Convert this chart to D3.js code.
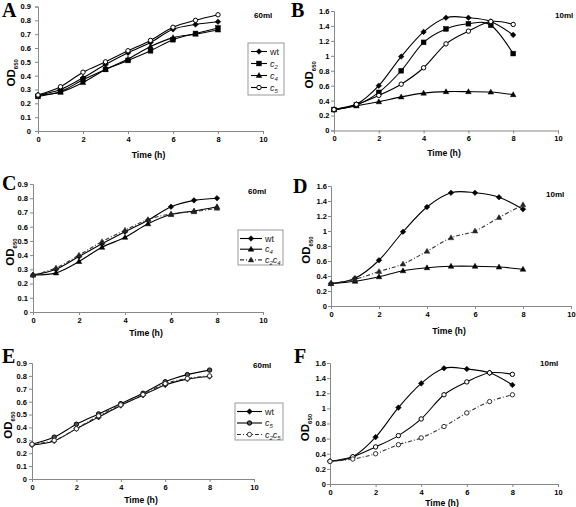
<!DOCTYPE html>
<html><head><meta charset="utf-8">
<script src="https://cdn.jsdelivr.net/npm/d3@7"></script>
<style>
html,body{margin:0;padding:0;background:#fff;}
svg{display:block;}
</style></head>
<body>
<script>
// ---------- data ----------
const time = [0,1,2,3,4,5,6,7,8];
const xTicks = [0,2,4,6,8,10];
const yTicks60 = [0,0.1,0.2,0.3,0.4,0.5,0.6,0.7,0.8,0.9];
const yTicks10 = [0,0.2,0.4,0.6,0.8,1,1.2,1.4,1.6];

const aWt  = [0.26,0.30,0.385,0.48,0.565,0.64,0.735,0.77,0.79];
const aC2  = [0.25,0.285,0.37,0.445,0.51,0.58,0.66,0.705,0.745];
const aC4  = [0.26,0.28,0.35,0.445,0.52,0.61,0.675,0.70,0.73];
const aC5  = [0.26,0.32,0.425,0.50,0.58,0.655,0.75,0.80,0.84];

const bWt  = [0.28,0.35,0.60,0.99,1.32,1.51,1.51,1.46,1.28];
const bC2  = [0.28,0.34,0.51,0.80,1.18,1.36,1.43,1.41,1.03];
const bC4  = [0.28,0.33,0.385,0.45,0.50,0.52,0.52,0.515,0.48];
const bC5  = [0.28,0.35,0.47,0.62,0.84,1.16,1.33,1.46,1.42];

const cWt   = [0.26,0.30,0.39,0.48,0.565,0.645,0.74,0.785,0.80];
const cC4   = [0.26,0.275,0.355,0.455,0.525,0.62,0.685,0.71,0.74];
const cC2C4 = [0.26,0.31,0.40,0.495,0.575,0.65,0.69,0.705,0.73];

const dWt   = [0.30,0.37,0.61,0.99,1.32,1.51,1.51,1.45,1.29];
const dC4   = [0.30,0.33,0.39,0.47,0.51,0.53,0.53,0.52,0.49];
const dC2C4 = [0.30,0.355,0.46,0.56,0.73,0.91,1.00,1.18,1.35];

const eWt   = [0.265,0.295,0.39,0.48,0.57,0.65,0.73,0.775,0.795];
const eC5   = [0.27,0.325,0.425,0.505,0.585,0.665,0.755,0.81,0.845];
const eC2C5 = [0.27,0.30,0.39,0.49,0.575,0.655,0.74,0.78,0.80];

const fWt   = [0.30,0.36,0.62,1.01,1.33,1.53,1.52,1.47,1.31];
const fC5   = [0.30,0.36,0.49,0.64,0.86,1.18,1.35,1.47,1.45];
const fC2C5 = [0.30,0.33,0.40,0.52,0.61,0.76,0.94,1.09,1.18];

const volumes = ["60ml","10ml","60ml","10ml","60ml","10ml"];
const panelLetters = ["A","B","C","D","E","F"];

// ---------- styles ----------
const S = {
  wt:   {label:"wt",  sub:null, marker:"diamond", fill:"#000", dash:null, stroke:"#000"},
  c2:   {label:"c", sub:"2", marker:"square", fill:"#000", dash:null, stroke:"#000"},
  c4:   {label:"c", sub:"4", marker:"triangle", fill:"#000", dash:null, stroke:"#000"},
  c5:   {label:"c", sub:"5", marker:"circle", fill:"#fff", dash:null, stroke:"#000"},
  c5f:  {label:"c", sub:"5", marker:"circle", fill:"#555", dash:null, stroke:"#000"},
  c2c4: {label:"c", sub:"2", label2:"c", sub2:"4", marker:"triangle", fill:"#222", dash:"4,2,1,2", stroke:"#333"},
  c2c5: {label:"c", sub:"2", label2:"c", sub2:"5", marker:"circle", fill:"#fff", dash:"4,2,1,2", stroke:"#333"}
};

const panels = [
  {x0:38, x10:263, y0:131, yTop:6.5, ymax:0.9, yt:yTicks60, pad:4, letter:[2,17], vol:[254,18], tOff:26.5, yOff:23,
   series:[[aWt,S.wt],[aC2,S.c2],[aC4,S.c4],[aC5,S.c5]], legend:{x:248,y:43,w:36,h:52,dy:12,x1:251,x2:267}},
  {x0:334, x10:558, y0:130.5, yTop:11, ymax:1.6, yt:yTicks10, pad:1.5, letter:[291,17], vol:[555,18], tOff:25, yOff:21,
   series:[[bWt,S.wt],[bC2,S.c2],[bC4,S.c4],[bC5,S.c5]]},
  {x0:33, x10:263, y0:312, yTop:184, ymax:0.9, yt:yTicks60, pad:2, letter:[2,190], vol:[248,194], tOff:23.5, yOff:19,
   series:[[cWt,S.wt],[cC4,S.c4],[cC2C4,S.c2c4]], legend:{x:238,y:230,w:45,h:35,dy:10.7,x1:240,x2:262}},
  {x0:331, x10:571, y0:306, yTop:186, ymax:1.6, yt:yTicks10, pad:1, letter:[293,193], vol:[546,197], tOff:27.5, yOff:21,
   series:[[dWt,S.wt],[dC4,S.c4],[dC2C4,S.c2c4]]},
  {x0:32, x10:254, y0:479, yTop:363, ymax:0.9, yt:yTicks60, pad:2, letter:[2,363], vol:[253,368], tOff:23.5, yOff:20,
   series:[[eWt,S.wt],[eC5,S.c5f],[eC2C5,S.c2c5]], legend:{x:235,y:403,w:48,h:37,dy:11.5,x1:237,x2:262}},
  {x0:330, x10:558, y0:484, yTop:363, ymax:1.6, yt:yTicks10, pad:1, letter:[294,363], vol:[540,366], tOff:21.5, yOff:21,
   series:[[fWt,S.wt],[fC5,S.c5],[fC2C5,S.c2c5]]}
];

const svg = d3.select("body").append("svg").attr("width",576).attr("height",507)
  .attr("font-family","Liberation Sans, Arial, sans-serif");

function drawMarker(g, type, x, y, fill, stroke){
  if(type==="diamond"){
    g.append("path").attr("d",`M${x},${y-2.8}L${x+2.8},${y}L${x},${y+2.8}L${x-2.8},${y}Z`)
      .attr("fill",fill).attr("stroke",stroke).attr("stroke-width",0.5);
  } else if(type==="square"){
    g.append("rect").attr("x",x-2.4).attr("y",y-2.4).attr("width",4.8).attr("height",4.8)
      .attr("fill",fill).attr("stroke",stroke).attr("stroke-width",0.5);
  } else if(type==="triangle"){
    g.append("path").attr("d",`M${x},${y-2.9}L${x+2.8},${y+2}L${x-2.8},${y+2}Z`)
      .attr("fill",fill).attr("stroke",stroke).attr("stroke-width",0.5);
  } else {
    g.append("circle").attr("cx",x).attr("cy",y).attr("r",2.2)
      .attr("fill",fill).attr("stroke",stroke).attr("stroke-width",1);
  }
}

function fmt(d){ return String(+d.toFixed(1)); }

panels.forEach((p,i)=>{
  const g = svg.append("g");
  const x = d3.scaleLinear().domain([0,10]).range([p.x0,p.x10]);
  const y = d3.scaleLinear().domain([0,p.ymax]).range([p.y0,p.yTop]);

  const xa = g.append("g").attr("transform",`translate(0,${p.y0})`)
    .call(d3.axisBottom(x).tickValues(xTicks).tickSize(3).tickPadding(3).tickFormat(d3.format("d")));
  const ya = g.append("g").attr("transform",`translate(${p.x0},0)`)
    .call(d3.axisLeft(y).tickValues(p.yt).tickSize(3).tickPadding(p.pad).tickFormat(fmt));
  [xa,ya].forEach(a=>{
    a.attr("font-family",null);
    a.select(".domain").attr("stroke","#888");
    a.selectAll(".tick line").attr("stroke","#888");
    a.selectAll("text").attr("font-size",7.5).attr("font-weight","bold").attr("fill","#000");
  });
  xa.selectAll("text").attr("dy","0.65em");

  // axis titles
  g.append("text").attr("x",(p.x0+p.x10)/2 - 2).attr("y",p.y0+p.tOff)
    .attr("text-anchor","middle").attr("font-size",8.7).attr("font-weight","bold").text("Time (h)");
  const yl = g.append("text").attr("transform",`translate(${p.x0-p.yOff},${(p.y0+p.yTop)/2+4}) rotate(-90)`)
    .attr("text-anchor","middle").attr("font-size",11.5).attr("font-weight","bold");
  yl.append("tspan").text("OD");
  yl.append("tspan").attr("font-size",6).attr("dy",3).text("650");

  // panel letter
  g.append("text").attr("x",p.letter[0]).attr("y",p.letter[1])
    .attr("font-family","Liberation Serif, DejaVu Serif, serif").attr("font-weight","bold")
    .attr("font-size",20).text(panelLetters[i]);
  // volume
  g.append("text").attr("x",p.vol[0]).attr("y",p.vol[1]).attr("font-size",8)
    .attr("font-weight","bold").text(volumes[i]);

  const line = d3.line().x((d,j)=>x(time[j])).y(d=>y(d)).curve(d3.curveCardinal.tension(0));
  p.series.forEach(([vals,st])=>{
    g.append("path").attr("d",line(vals)).attr("fill","none").attr("stroke",st.stroke)
      .attr("stroke-width",1.1).attr("stroke-dasharray",st.dash);
  });
  p.series.forEach(([vals,st])=>{
    vals.forEach((v,j)=>drawMarker(g,st.marker,x(time[j]),y(v),st.fill,st.stroke));
  });

  if(p.legend){
    const L = p.legend;
    g.append("rect").attr("x",L.x).attr("y",L.y).attr("width",L.w).attr("height",L.h)
      .attr("fill","#fff").attr("stroke","#999").attr("stroke-width",1);
    p.series.forEach(([vals,st],k)=>{
      const yy = L.y + 8.5 + k*L.dy;
      g.append("line").attr("x1",L.x1).attr("x2",L.x2).attr("y1",yy).attr("y2",yy)
        .attr("stroke",st.stroke).attr("stroke-width",1.1).attr("stroke-dasharray",st.dash);
      drawMarker(g,st.marker,(L.x1+L.x2)/2,yy,st.fill,st.stroke);
      const t = g.append("text").attr("x",L.x2+3).attr("y",yy+3).attr("font-size",9).attr("fill","#222");
      if(st.sub===null){ t.text(st.label); }
      else {
        t.append("tspan").attr("font-style","italic").text(st.label);
        t.append("tspan").attr("font-style","italic").attr("font-size",6).attr("dy",2).text(st.sub);
        if(st.label2){
          t.append("tspan").attr("font-style","italic").attr("dy",-2).text(st.label2);
          t.append("tspan").attr("font-style","italic").attr("font-size",6).attr("dy",2).text(st.sub2);
        }
      }
    });
  }
});
</script>
</body></html>
